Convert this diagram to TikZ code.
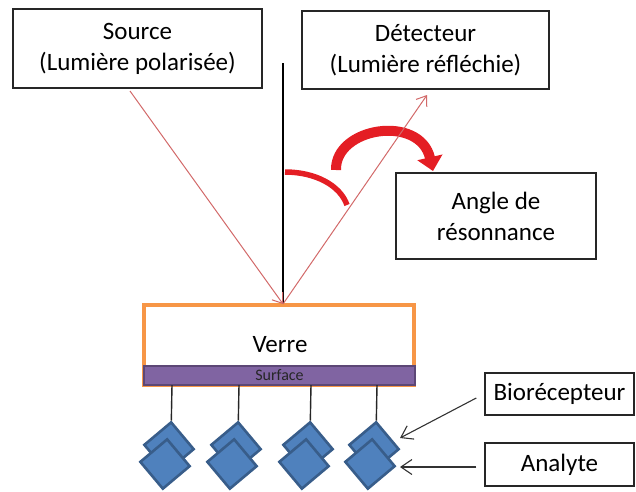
\documentclass[tikz,border=0pt]{standalone}
\usepackage{fontspec}
\setmainfont{Carlito}
\usetikzlibrary{arrows.meta,calc}
\definecolor{rayred}{RGB}{210,105,105}
\definecolor{bigred}{RGB}{228,30,36}
\definecolor{glassor}{RGB}{247,150,70}
\definecolor{surfpu}{RGB}{128,100,162}
\definecolor{surfbd}{RGB}{92,71,118}
\definecolor{molfill}{RGB}{79,129,189}
\definecolor{molbd}{RGB}{56,93,138}
\begin{document}
\begin{tikzpicture}[x=1pt,y=-1pt,
  lbl/.style={draw=black!85,line width=1.5pt,fill=white,align=center,inner sep=0pt,font=\fontsize{25}{31}\selectfont},
  ray/.style={draw=rayred,line width=1pt,-{Straight Barb[length=9pt,width=13pt]}},
  pointer/.style={draw=black!80,line width=1.1pt,-{Straight Barb[length=11pt,width=15pt]}},
  mol/.style={draw=molbd,fill=molfill,line width=2.6pt,minimum size=35pt,inner sep=0pt,rotate=40,shape=rectangle},
  stalk/.style={draw=black!85,line width=1.4pt}]
\useasboundingbox (0,0) rectangle (636,491);

% boxes
\node[lbl,minimum width=249pt,minimum height=79pt] (src) at (137.5,48.5) {Source\\(Lumière polarisée)};
\node[lbl,minimum width=247pt,minimum height=78pt] (det) at (425.5,50) {Détecteur\\(Lumière réfléchie)};
\node[lbl,minimum width=200pt,minimum height=86pt] (ang) at (496,216) {Angle de\\résonnance};
\node[lbl,minimum width=149pt,minimum height=42pt] (bio) at (559.5,394) {Biorécepteur};
\node[lbl,minimum width=149pt,minimum height=43pt] (ana) at (559.5,464.5) {Analyte};

% glass and surface
\node[draw=glassor,line width=3.5pt,minimum width=270pt,minimum height=80pt,inner sep=0pt] (glass) at (279,345) {};
\node[font=\fontsize{25}{31}\selectfont] (verre) at (280,345) {Verre};
\node[draw=surfbd,fill=surfpu,line width=2.6pt,minimum width=271pt,minimum height=19pt,inner sep=0pt,font=\fontsize{16}{16}\selectfont,text=black!85] (surf) at (279.5,375.5) {Surface};

% normal line
\coordinate (ntop) at (283,63);
\coordinate (hit) at (283,304);
\draw[black,line width=1.6pt] (ntop) -- (hit);

% incident ray
\coordinate (srcout) at (130,91);
\draw[ray] (srcout) -- (hit);

% big curved arrow and angle arc
\draw[bigred,line width=10pt,-{Triangle[length=14pt,width=25pt]}] (336,170) .. controls (335,127) and (420,114) .. (433,171);
\draw[bigred,line width=5.5pt] (285,172) .. controls (315,172) and (340,185) .. (347,205);

% reflected ray
\coordinate (detin) at (427,95);
\draw[ray] (hit) -- (detin);

% receptors and analytes
\foreach \x/\i in {172/1,239/2,311/3,377/4} {
  \coordinate (s\i) at (\x,385);
  \node[mol] (r\i) at (\x-3,447) {};
  \draw[stalk] (s\i) -- (r\i.north east);
  \node[mol] (a\i) at (\x-7,464) {};
}

% pointers
\coordinate (bioTip) at (400,438);
\draw[pointer] ([xshift=-8pt,yshift=-4pt]bio.west) -- (bioTip);
\coordinate (anaTip) at (400,467);
\draw[pointer] ([xshift=-8pt,yshift=-2.5pt]ana.west) -- (anaTip);
\end{tikzpicture}
\end{document}
